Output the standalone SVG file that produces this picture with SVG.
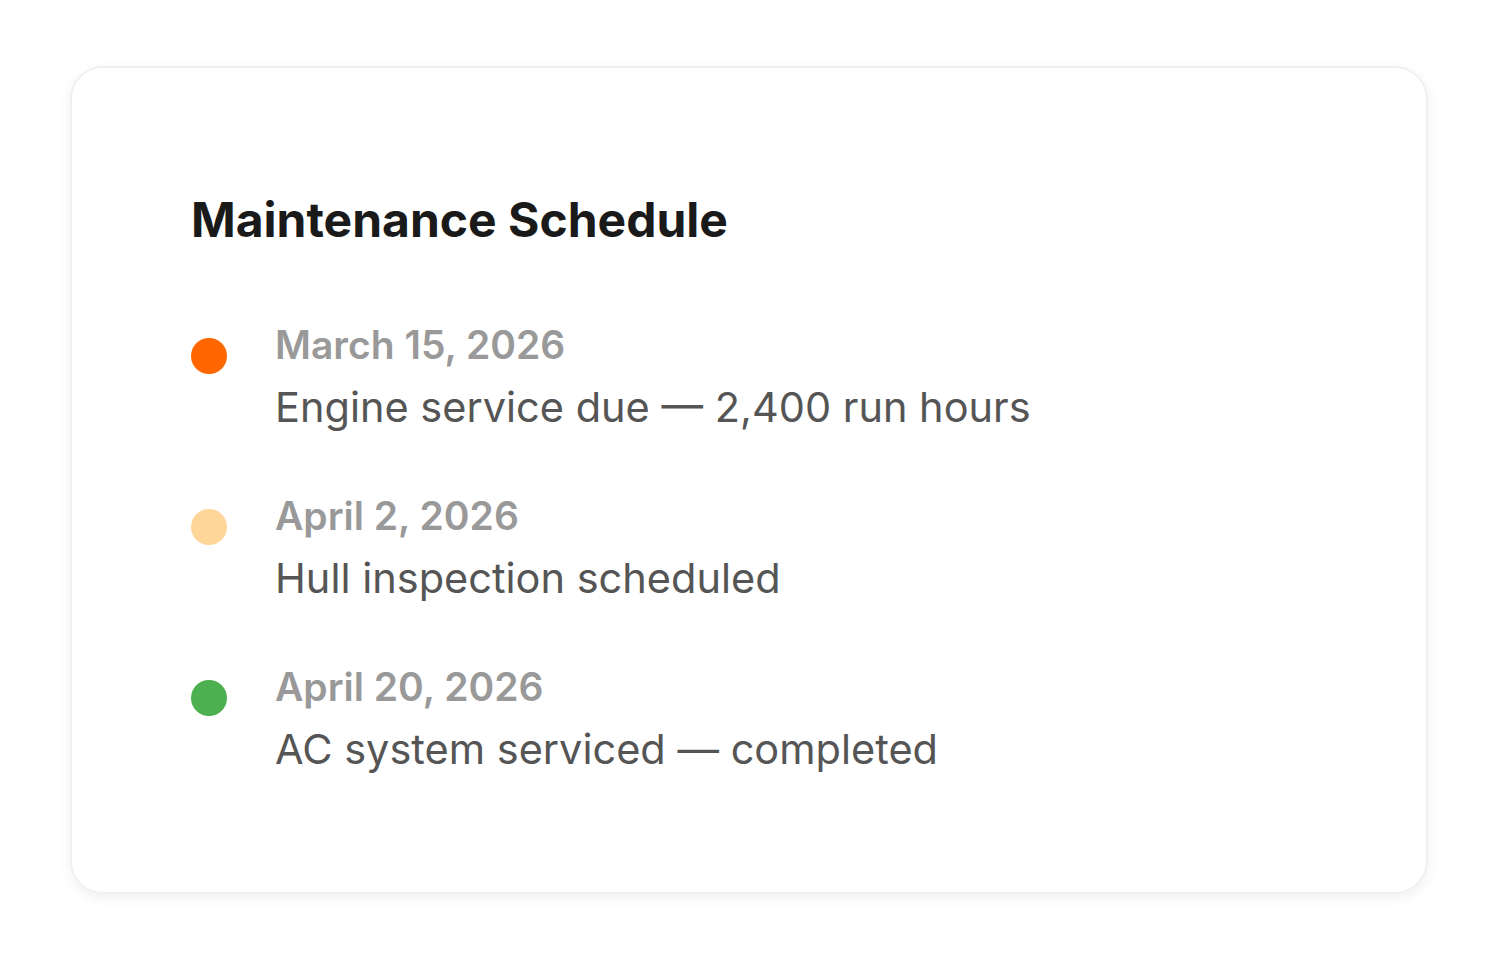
<svg xmlns="http://www.w3.org/2000/svg" width="1498" height="967" viewBox="0 0 1498 967">
<defs>
<filter id="sh" x="-10%" y="-10%" width="120%" height="120%">
<feDropShadow dx="0" dy="4" stdDeviation="6" flood-color="#000" flood-opacity="0.06"/>
</filter>
<style>
.title{font-family:Inter,"Liberation Sans",sans-serif;font-weight:700;font-size:48px;fill:#1a1a1a}
.date{font-family:Inter,"Liberation Sans",sans-serif;font-weight:600;font-size:39px;fill:#999}
.desc{font-family:Inter,"Liberation Sans",sans-serif;font-weight:400;font-size:41.5px;fill:#555}
</style>
</defs>
<rect width="1498" height="967" fill="#fff"/>
<g id="card">
<rect x="71" y="67" width="1356" height="826" rx="32" fill="#fff" stroke="#f0f0f0" stroke-width="2" filter="url(#sh)"/>
<text class="title" x="191" y="237">Maintenance Schedule</text>
</g>
<g id="item1">
<circle cx="209" cy="356" r="18" fill="#FF6600"/>
<text class="date" x="275" y="359">March 15, 2026</text>
<text class="desc" x="275" y="422">Engine service due — 2,400 run hours</text>
</g>
<g id="item2">
<circle cx="209" cy="527" r="18" fill="#FFD699"/>
<text class="date" x="275" y="530">April 2, 2026</text>
<text class="desc" x="275" y="593">Hull inspection scheduled</text>
</g>
<g id="item3">
<circle cx="209" cy="698" r="18" fill="#4CAF50"/>
<text class="date" x="275" y="701">April 20, 2026</text>
<text class="desc" x="275" y="764">AC system serviced — completed</text>
</g>
<g id="connectors"/>
</svg>
